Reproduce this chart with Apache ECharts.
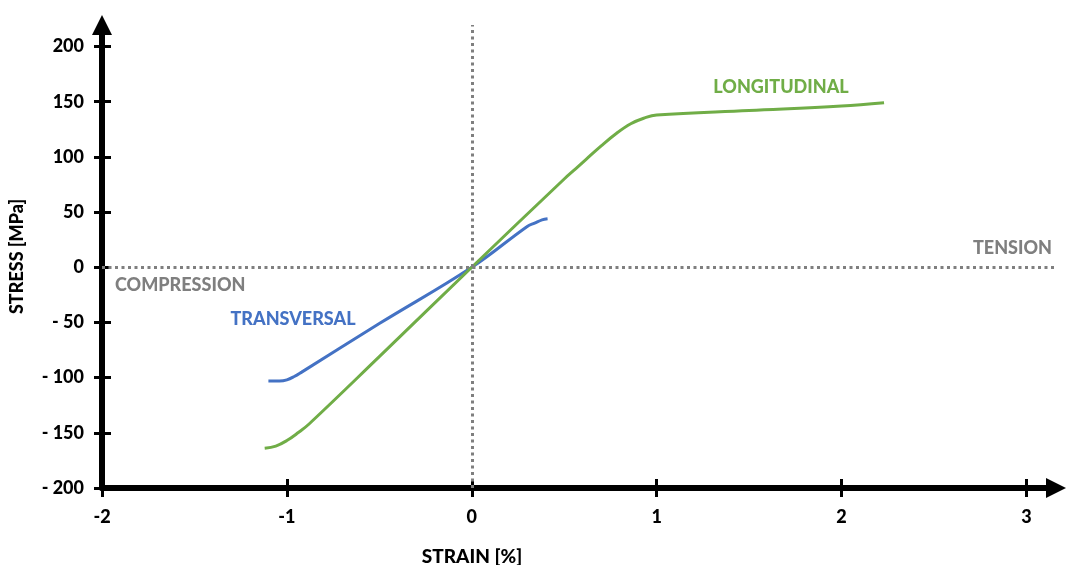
<!DOCTYPE html>
<html>
<head>
<meta charset="utf-8">
<title>Stress–strain curves</title>
<script src="https://cdn.jsdelivr.net/npm/echarts@6/dist/echarts.min.js"></script>
<style>
  html, body { margin: 0; padding: 0; background: #ffffff; }
  #chart { width: 1066px; height: 565px; }
</style>
</head>
<body>
<div id="chart"></div>
<script>
// Longitudinal direction: strain [%] and stress [MPa]
const strainLong = [-1.12, -1.06, -1.00, -0.94, -0.88, -0.50, 0.00, 0.50, 0.56, 0.62, 0.70, 0.78, 0.86, 0.93, 1.00, 1.50, 2.00, 2.23];
const stressLong = [-164, -162, -157, -150, -142, -81, 0, 80, 89, 98, 110, 121, 130, 135, 138, 142, 146, 149];

// Transversal direction: strain [%] and stress [MPa]
const strainTrans = [-1.10, -1.04, -1.00, -0.96, -0.92, -0.50, 0.00, 0.30, 0.34, 0.38, 0.41];
const stressTrans = [-103, -103, -102, -99, -95, -51, 0, 37, 40, 43, 44];

// Tick values shown on each axis
const xTicks = [-2, -1, 0, 1, 2, 3];
const yTicks = [-200, -150, -100, -50, 0, 50, 100, 150, 200];

// Text annotations
const labelLong = 'LONGITUDINAL';
const labelTrans = 'TRANSVERSAL';
const labelTension = 'TENSION';
const labelCompression = 'COMPRESSION';

const GREEN = '#70AD47';
const BLUE = '#4472C4';
const GREY = '#7F7F7F';
const FONT = 'Lato, "Open Sans", sans-serif';

const pairs = (xs, ys) => xs.map((x, i) => [x, ys[i]]);

const X_MIN = -2, X_MAX = 3.16;
const Y_MIN = -200, Y_MAX = 219.5;

const yFmt = v => (v < 0 ? '- ' + Math.abs(v) : String(v));

const commonX = {
  type: 'value', min: X_MIN, max: X_MAX,
  splitLine: { show: false }
};
const commonY = {
  type: 'value', min: Y_MIN, max: Y_MAX,
  splitLine: { show: false }
};

const tickFont = { color: '#000', fontFamily: FONT, fontWeight: 900, fontSize: 18 };

const option = {
  backgroundColor: '#ffffff',
  animation: false,
  grid: { left: 99, right: 10, top: 25, bottom: 77, containLabel: false },
  xAxis: [
    Object.assign({}, commonX, {
      position: 'bottom',
      axisLine: {
        show: true, onZero: false,
        symbol: ['none', 'triangle'], symbolSize: [20, 20],
        lineStyle: { color: '#000', width: 6 }
      },
      axisTick: { show: true, inside: false, length: 9, customValues: xTicks,
                  lineStyle: { color: '#000', width: 3 } },
      axisLabel: Object.assign({ show: true, customValues: xTicks, margin: 20 }, tickFont)
    }),
    Object.assign({}, commonX, {
      position: 'bottom',
      axisLine: { show: false, onZero: false },
      axisTick: { show: true, inside: true, length: 9, customValues: xTicks,
                  lineStyle: { color: '#000', width: 3 } },
      axisLabel: { show: false }
    })
  ],
  yAxis: [
    Object.assign({}, commonY, {
      position: 'left',
      name: 'STRESS [MPa]',
      nameLocation: 'middle',
      nameGap: 76,
      nameRotate: 90,
      nameTextStyle: { color: '#000', fontFamily: FONT, fontWeight: 900, fontSize: 18 },
      axisLine: {
        show: true, onZero: false,
        symbol: ['none', 'triangle'], symbolSize: [20, 20],
        lineStyle: { color: '#000', width: 6 }
      },
      axisTick: { show: true, inside: false, length: 8, customValues: yTicks,
                  lineStyle: { color: '#000', width: 3 } },
      axisLabel: Object.assign({ show: true, customValues: yTicks, margin: 18, formatter: yFmt }, tickFont)
    }),
    Object.assign({}, commonY, {
      position: 'left',
      axisLine: { show: false, onZero: false },
      axisTick: { show: true, inside: true, length: 9, customValues: yTicks,
                  lineStyle: { color: '#000', width: 3 } },
      axisLabel: { show: false }
    })
  ],
  title: {
    text: 'STRAIN [%]',
    left: 467, top: 542,
    textAlign: 'center',
    textStyle: { color: '#000', fontFamily: FONT, fontWeight: 900, fontSize: 19 }
  },
  series: [
    {
      name: 'Reference lines',
      type: 'line',
      data: [],
      silent: true,
      markLine: {
        silent: true,
        symbol: ['none', 'none'],
        label: { show: false },
        lineStyle: { color: GREY, width: 3, type: [3, 3.5] },
        data: [
          { yAxis: 0 },
          { xAxis: 0 }
        ]
      }
    },
    {
      name: 'Transversal',
      type: 'line',
      data: pairs(strainTrans, stressTrans),
      showSymbol: false,
      smooth: 0.4,
      lineStyle: { color: BLUE, width: 3 },
      itemStyle: { color: BLUE },
      z: 3
    },
    {
      name: 'Longitudinal',
      type: 'line',
      data: pairs(strainLong, stressLong),
      showSymbol: false,
      smooth: 0.4,
      lineStyle: { color: GREEN, width: 3 },
      itemStyle: { color: GREEN },
      z: 4
    }
  ],
  graphic: [
    { type: 'text', x: 781, y: 87,
      style: { text: labelLong, fill: GREEN, font: '900 18px ' + FONT, align: 'center', verticalAlign: 'middle' } },
    { type: 'text', x: 1052, y: 248,
      style: { text: labelTension, fill: GREY, font: '900 18px ' + FONT, align: 'right', verticalAlign: 'middle' } },
    { type: 'text', x: 115, y: 285,
      style: { text: labelCompression, fill: GREY, font: '900 18px ' + FONT, align: 'left', verticalAlign: 'middle' } },
    { type: 'text', x: 293, y: 319,
      style: { text: labelTrans, fill: BLUE, font: '900 18px ' + FONT, align: 'center', verticalAlign: 'middle' } }
  ]
};

const chart = echarts.init(document.getElementById('chart'), null, { renderer: 'canvas' });
chart.setOption(option);
</script>
</body>
</html>
